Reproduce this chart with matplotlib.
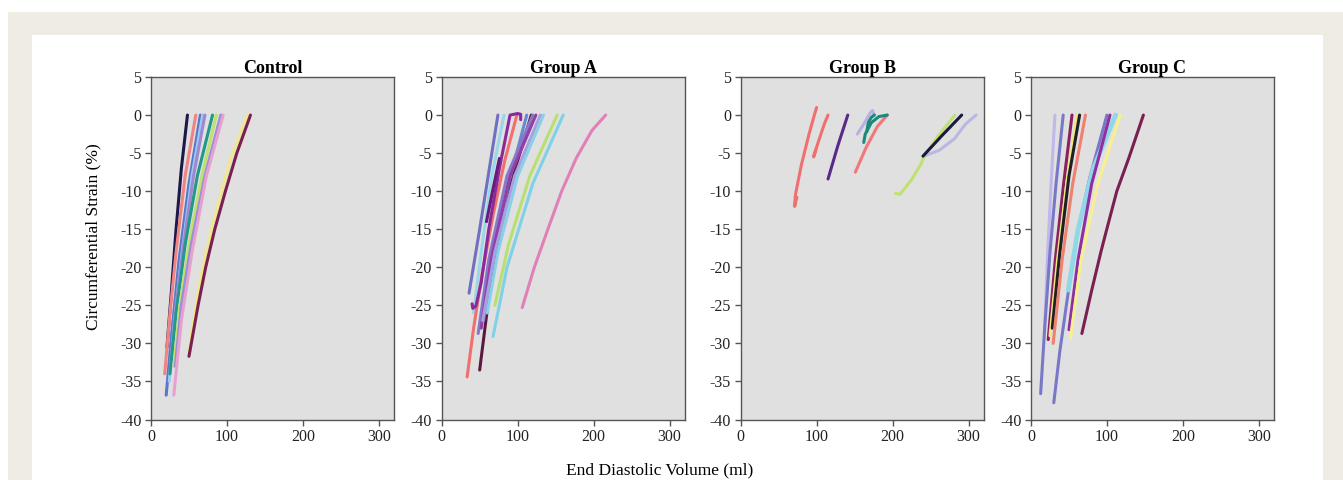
import matplotlib
matplotlib.use("Agg")
import matplotlib.pyplot as plt
from matplotlib.patches import Rectangle

plt.rcParams['font.family'] = ['Liberation Serif', 'DejaVu Serif']
plt.rcParams['axes.unicode_minus'] = False

titles = ['Control', 'Group A', 'Group B', 'Group C']
y_ticks = [5, 0, -5, -10, -15, -20, -25, -30, -35, -40]
x_ticks = [0, 100, 200, 300]

# Control: EDV (ml) and circumferential strain (%) per subject
control_edv = [
    [21, 27, 33, 40, 48],
    [18, 25, 33, 45, 59],
    [20, 28, 37, 50, 65],
    [24, 31, 41, 54, 68],
    [26, 33, 43, 56, 71],
    [25, 33, 45, 61, 81],
    [30, 38, 50, 67, 86],
    [32, 40, 53, 71, 92],
    [30, 40, 54, 73, 95],
    [50, 64, 82, 104, 127],
    [50, 62, 72, 84, 98, 113, 131],
]
control_strain = [
    [-30.5, -23, -15, -7, 0],
    [-34, -26, -18, -8, 0],
    [-36.8, -28, -19, -9, 0],
    [-35, -27, -18, -8, 0],
    [-33, -25, -17, -8, 0],
    [-34, -26, -17, -8, 0],
    [-33, -25, -17, -8, 0],
    [-33, -25, -17, -8, 0],
    [-36.8, -27, -18, -8, 0],
    [-31, -22, -14, -6, 0],
    [-31.7, -25, -20, -15, -10, -5, 0],
]
control_colors = ['#1c1848', '#f08484', '#5878c8', '#a0c8f0', '#a088d0', '#20988a',
                  '#c0e070', '#9a90d8', '#e8a0d0', '#f0e890', '#7a2050']

# Group A
groupa_edv = [
    [36, 50, 62, 74],
    [42, 52, 66, 82],
    [33.5, 42, 53, 68, 83, 99],
    [40, 41, 45, 52, 62, 76, 90, 100, 104, 104],
    [59, 67, 76],
    [50, 62, 82, 118],
    [55, 68, 88, 112],
    [48, 62, 86, 120],
    [52, 65, 90, 124],
    [54, 70, 96, 130],
    [60, 74, 100, 134],
    [70, 88, 116, 152],
    [67.6, 86, 120, 160],
    [106, 122, 142, 158, 177, 198, 216],
]
groupa_strain = [
    [-23.4, -15, -7.5, 0],
    [-26, -18, -8, 0],
    [-34.4, -28, -21, -13, -6, 0],
    [-24.8, -25.4, -25.1, -22, -15, -7, 0, 0.2, 0.1, -0.6],
    [-14, -10, -5.7],
    [-33.5, -24, -12, 0],
    [-27, -19, -9, 0],
    [-28.7, -19, -8, 0],
    [-28, -19, -8, 0],
    [-27, -18, -8, 0],
    [-26, -18, -8, 0],
    [-25, -17, -8, 0],
    [-29.1, -20, -9, 0],
    [-25.3, -20, -14.4, -10, -5.7, -2, 0],
]
groupa_colors = ['#7070c0', '#98d8e8', '#f07070', '#8a2a9a', '#6a1a7a', '#5a1a40',
                 '#6888d0', '#8878c8', '#9040a8', '#a8a0e0', '#88d0e8', '#b8e070',
                 '#80d0e8', '#e080b8']

# Group B
groupb_edv = [
    [74, 71, 72, 80, 90, 97, 100],
    [99, 96, 98, 104, 110, 115],
    [115, 128, 141],
    [151, 165, 180, 193],
    [153.6, 162, 170, 173.5, 176],
    [162, 164, 172, 182, 193],
    [166, 168, 172, 176],
    [204, 210, 225, 237, 244, 262, 282],
    [244, 262, 281.6, 296, 310],
    [240, 265, 291],
]
groupb_strain = [
    [-10.8, -12, -10.5, -6.5, -2.5, 0, 1],
    [-4.6, -5.5, -4.8, -3, -1.2, 0],
    [-8.4, -4, 0],
    [-7.5, -4.3, -1.5, 0],
    [-2.5, -1.2, 0.2, 0.6, 0],
    [-3.6, -2.5, -1.0, -0.2, 0],
    [-2.2, -1, -0.3, 0],
    [-10.3, -10.4, -8.5, -6.5, -5, -2.5, 0],
    [-5.3, -4.6, -3.1, -1.2, 0],
    [-5.4, -2.7, 0],
]
groupb_colors = ['#f07070', '#f07070', '#5a2a8a', '#f07878', '#b8b0e0', '#1a8a7a',
                 '#1a8a7a', '#c0e070', '#b8b8e0', '#1a1a40']

# Group C
groupc_edv = [
    [18, 22, 27, 31.5],
    [12.7, 18, 25, 33, 42.4],
    [22.7, 32, 43, 54],
    [25, 35, 47, 60.7],
    [28, 38, 50, 64],
    [29.2, 41, 55, 71.7],
    [30, 38, 48, 60, 78, 100],
    [49, 62, 82, 111.4],
    [50, 62, 80, 104],
    [52, 66, 88, 117.5],
    [67, 80, 92, 99, 113, 129, 148],
]
groupc_strain = [
    [-28, -18, -8, 0],
    [-36.6, -28, -18, -9, 0],
    [-29.5, -19, -9, 0],
    [-29, -19, -9, 0],
    [-28, -18, -8, 0],
    [-30, -19, -9, 0],
    [-37.8, -31, -24, -16, -8, 0],
    [-23, -15, -7, 0],
    [-28.2, -19, -9, 0],
    [-29.3, -19, -9, 0],
    [-28.7, -23, -18, -15.3, -10, -5.6, 0],
]
groupc_colors = ['#c0b8e8', '#7878c8', '#8a2060', '#f0e880', '#202020', '#f08070',
                 '#7878c8', '#90d8e8', '#9030a0', '#f8f090', '#7a2050']

groups = [
    (control_edv, control_strain, control_colors),
    (groupa_edv, groupa_strain, groupa_colors),
    (groupb_edv, groupb_strain, groupb_colors),
    (groupc_edv, groupc_strain, groupc_colors),
]

W, H = 1343, 480
fig = plt.figure(figsize=(W / 100, H / 100), dpi=100, facecolor='white')

# page background: beige frame and white panel
fig.patches.append(Rectangle((8 / W, 0), 1 - 8 / W, 1 - 12 / H, transform=fig.transFigure,
                             facecolor='#efece3', edgecolor='none', zorder=-2))
fig.patches.append(Rectangle((32 / W, 0), (1323 - 32) / W, 1 - 35 / H, transform=fig.transFigure,
                             facecolor='white', edgecolor='none', zorder=-1))

lefts = [151, 441.7, 740.7, 1031]
ax_w = 243
for i, (edv, strain, colors) in enumerate(groups):
    ax = fig.add_axes([lefts[i] / W, 1 - 419.5 / H, ax_w / W, (419.5 - 77) / H])
    ax.set_facecolor('#e0e0e0')
    for xs, ys, c in zip(edv, strain, colors):
        lw = 3.4 if c == '#90d8e8' else 2.2
        ax.plot(xs, ys, color=c, lw=lw, solid_capstyle='round', solid_joinstyle='round')
    ax.set_xlim(0, 320)
    ax.set_ylim(-40, 5)
    ax.set_xticks(x_ticks)
    ax.set_yticks(y_ticks)
    ax.tick_params(direction='out', length=4, width=1, color='#555555',
                   labelsize=11.5, labelcolor='#222222', pad=3)
    for s in ax.spines.values():
        s.set_color('#555555')
        s.set_linewidth(1)
    ax.set_title(titles[i], fontsize=13, fontweight='bold', pad=2)

fig.text(93 / W, 1 - 237 / H, 'Circumferential Strain (%)', rotation=90,
         ha='center', va='center', fontsize=12.5)
fig.text(660 / W, 1 - 470 / H, 'End Diastolic Volume (ml)', ha='center', va='center',
         fontsize=12.5)

fig.savefig('out.png', dpi=100)
